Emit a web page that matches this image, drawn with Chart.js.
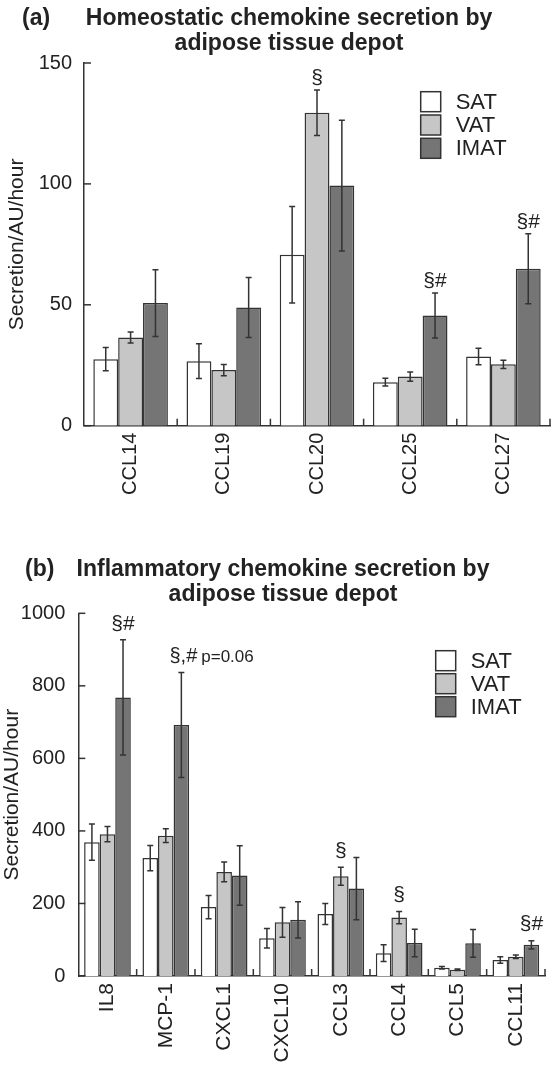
<!DOCTYPE html>
<html><head><meta charset="utf-8">
<script src="https://cdn.jsdelivr.net/npm/chart.js@4.4.1/dist/chart.umd.min.js"></script>
<style>
html,body{margin:0;padding:0;background:#fff;}
#wrap{position:relative;width:552px;height:1065px;overflow:hidden;}
canvas{position:absolute;left:0;}
</style></head><body>
<div id="wrap">
<canvas id="ca" width="552" height="540" style="top:0px"></canvas>
<canvas id="cb" width="552" height="525" style="top:540px"></canvas>
</div>
<script>
// ---------- data ----------
const seriesNames = ['SAT', 'VAT', 'IMAT'];

const categoriesA = ['CCL14', 'CCL19', 'CCL20', 'CCL25', 'CCL27'];
const satA     = [27.5, 26.7, 70.7, 18.0, 28.6];
const satErrA  = [4.8, 7.2, 20.0, 1.6, 3.4];
const vatA     = [36.5, 23.0, 129.4, 20.3, 25.4];
const vatErrA  = [2.3, 2.3, 9.4, 1.9, 1.7];
const imatA    = [50.7, 48.9, 99.3, 45.6, 64.9];
const imatErrA = [13.8, 12.4, 27.0, 9.3, 14.5];
const yTicksA  = [0, 50, 100, 150];
const annotA   = [
  {cat: 2, series: 1, text: '§'},
  {cat: 3, series: 2, text: '§#'},
  {cat: 4, series: 2, text: '§#'}
];
const titleA = ['Homeostatic chemokine secretion by', 'adipose tissue depot'];

const categoriesB = ['IL8', 'MCP-1', 'CXCL1', 'CXCL10', 'CCL3', 'CCL4', 'CCL5', 'CCL11'];
const satB     = [369, 325, 190, 104, 171, 63, 23, 44];
const satErrB  = [50, 35, 32, 27, 29, 23, 3.5, 9];
const vatB     = [391, 387, 287, 148, 275, 161, 17, 53];
const vatErrB  = [21, 19, 27, 41, 25, 17, 2, 5];
const imatB    = [768, 692, 277, 155, 241, 91, 90, 86];
const imatErrB = [159, 145, 82, 50, 86, 38, 38, 11.5];
const yTicksB  = [0, 200, 400, 600, 800, 1000];
const annotB   = [
  {cat: 0, series: 2, text: '§#'},
  {cat: 1, series: 2, text: '§,#', note: 'p=0.06'},
  {cat: 4, series: 1, text: '§'},
  {cat: 5, series: 1, text: '§'},
  {cat: 7, series: 2, text: '§#'}
];
const titleB = ['Inflammatory chemokine secretion by', 'adipose tissue depot'];

const yTitle = 'Secretion/AU/hour';

// ---------- styles ----------
const FONT = "'Liberation Sans', Arial, Helvetica, sans-serif";
const INK = '#222222';
const LINE = '#333333';
const fills = ['#ffffff', '#c6c6c6', '#757575'];

Chart.defaults.font.family = FONT;
Chart.defaults.color = INK;

const deco = {
  id: 'deco',
  afterDatasetsDraw(chart, args, o) {
    const ctx = chart.ctx, ys = chart.scales.y;
    ctx.save();
    ctx.strokeStyle = LINE; ctx.lineWidth = 1.5;
    chart.data.datasets.forEach((ds, i) => {
      const meta = chart.getDatasetMeta(i);
      meta.data.forEach((bar, j) => {
        const v = ds.data[j], e = ds.err[j];
        const yt = ys.getPixelForValue(v + e), yb = ys.getPixelForValue(v - e);
        ctx.beginPath();
        ctx.moveTo(bar.x, yt); ctx.lineTo(bar.x, yb);
        ctx.moveTo(bar.x - 3, yt); ctx.lineTo(bar.x + 3, yt);
        ctx.moveTo(bar.x - 3, yb); ctx.lineTo(bar.x + 3, yb);
        ctx.stroke();
      });
    });
    ctx.restore();
  },
  afterDraw(chart, args, o) {
    const ctx = chart.ctx, ys = chart.scales.y;
    const ca = chart.chartArea;
    ctx.save();
    ctx.strokeStyle = LINE; ctx.lineWidth = 1.5;
    // y ticks (inward)
    ys.ticks.forEach(t => {
      const y = ys.getPixelForValue(t.value);
      ctx.beginPath(); ctx.moveTo(ca.left, y); ctx.lineTo(ca.left + 7, y); ctx.stroke();
    });
    // category boundary ticks (upward)
    const n = chart.data.labels.length;
    const w = (ca.right - ca.left) / n;
    for (let j = 1; j <= n; j++) {
      const x = ca.left + j * w;
      ctx.beginPath(); ctx.moveTo(x, ca.bottom); ctx.lineTo(x, ca.bottom - 7); ctx.stroke();
    }
    // titles
    ctx.fillStyle = INK;
    ctx.font = 'bold 23px ' + FONT;
    ctx.textAlign = 'center'; ctx.textBaseline = 'alphabetic';
    o.title.forEach((line, k) => ctx.fillText(line, o.titleX, o.titleY[k]));
    ctx.textAlign = 'left';
    ctx.fillText(o.panel, o.panelX, o.titleY[0]);
    // legend
    ctx.font = '22px ' + FONT;
    ctx.textBaseline = 'middle';
    chart.data.datasets.forEach((ds, i) => {
      const by = o.legY + i * o.legPitch;
      ctx.fillStyle = ds.backgroundColor;
      ctx.fillRect(o.legX, by, 20, 20);
      ctx.strokeRect(o.legX, by, 20, 20);
      ctx.fillStyle = INK;
      ctx.fillText(ds.label, o.legX + 35, by + 11);
    });
    // annotations
    o.annot.forEach(a => {
      const ds = chart.data.datasets[a.series];
      const bar = chart.getDatasetMeta(a.series).data[a.cat];
      const y = ys.getPixelForValue(ds.data[a.cat] + ds.err[a.cat]) - o.annotGap;
      ctx.font = '21px ' + FONT;
      ctx.textAlign = 'center'; ctx.textBaseline = 'middle';
      ctx.fillStyle = INK;
      if (a.note) {
        ctx.font = '20px ' + FONT;
        ctx.fillText(a.text, bar.x + 2, y);
        const tw = ctx.measureText(a.text).width;
        ctx.font = '17px ' + FONT;
        ctx.textAlign = 'left';
        ctx.fillText(a.note, bar.x + 2 + tw / 2 + 4, y + 1);
      } else {
        ctx.fillText(a.text, bar.x, y);
      }
    });
    ctx.restore();
  }
};

function makeChart(id, cats, vals, errs, yt, cfg) {
  return new Chart(document.getElementById(id), {
    type: 'bar',
    data: {
      labels: cats,
      datasets: seriesNames.map((nm, i) => ({
        label: nm, data: vals[i], err: errs[i],
        backgroundColor: fills[i], borderColor: LINE, borderWidth: 1.5,
        borderSkipped: 'start',
        categoryPercentage: 0.8, barPercentage: 1.0
      }))
    },
    options: {
      responsive: false, animation: false, devicePixelRatio: 1,
      layout: {padding: {top: cfg.top, right: cfg.right, left: 0, bottom: 0}},
      plugins: {
        legend: {display: false}, tooltip: {enabled: false},
        deco: cfg.deco
      },
      scales: {
        x: {
          grid: {display: false, drawTicks: false},
          border: {display: true, color: LINE, width: 1.5},
          ticks: {autoSkip: false, minRotation: 90, maxRotation: 90, padding: 7,
                  font: {size: cfg.xFont}, color: INK},
          afterFit: s => { s.height = cfg.xH; }
        },
        y: {
          min: 0, max: yt[yt.length - 1],
          afterBuildTicks: s => { s.ticks = yt.map(v => ({value: v})); },
          grid: {display: false, drawTicks: false},
          border: {display: true, color: LINE, width: 1.5},
          ticks: {padding: cfg.yPad, font: {size: 20}, color: INK,
                  callback: v => String(v)},
          title: {display: true, text: yTitle, font: {size: 21}, color: INK,
                  padding: {top: cfg.yTitlePad, bottom: 0}},
          afterFit: s => { s.width = cfg.yW; }
        }
      }
    },
    plugins: [deco]
  });
}

makeChart('ca', categoriesA, [satA, vatA, imatA], [satErrA, vatErrA, imatErrA], yTicksA, {
  top: 63, right: 2, xH: 114.3, yW: 84, yPad: 12, yTitlePad: 5, xFont: 20,
  deco: {title: titleA, titleX: 289, titleY: [25, 50], panel: '(a)', panelX: 22,
         legX: 420.7, legY: 91.7, legPitch: 23.3, annot: annotA, annotGap: 12}
});

makeChart('cb', categoriesB, [satB, vatB, imatB], [satErrB, vatErrB, imatErrB], yTicksB, {
  top: 73.3, right: 7, xH: 89, yW: 78.3, yPad: 13, yTitlePad: 0, xFont: 21,
  deco: {title: titleB, titleX: 283, titleY: [36, 61], panel: '(b)', panelX: 25,
         legX: 435.7, legY: 110.7, legPitch: 23, annot: annotB, annotGap: 16}
});
</script>
</body></html>
